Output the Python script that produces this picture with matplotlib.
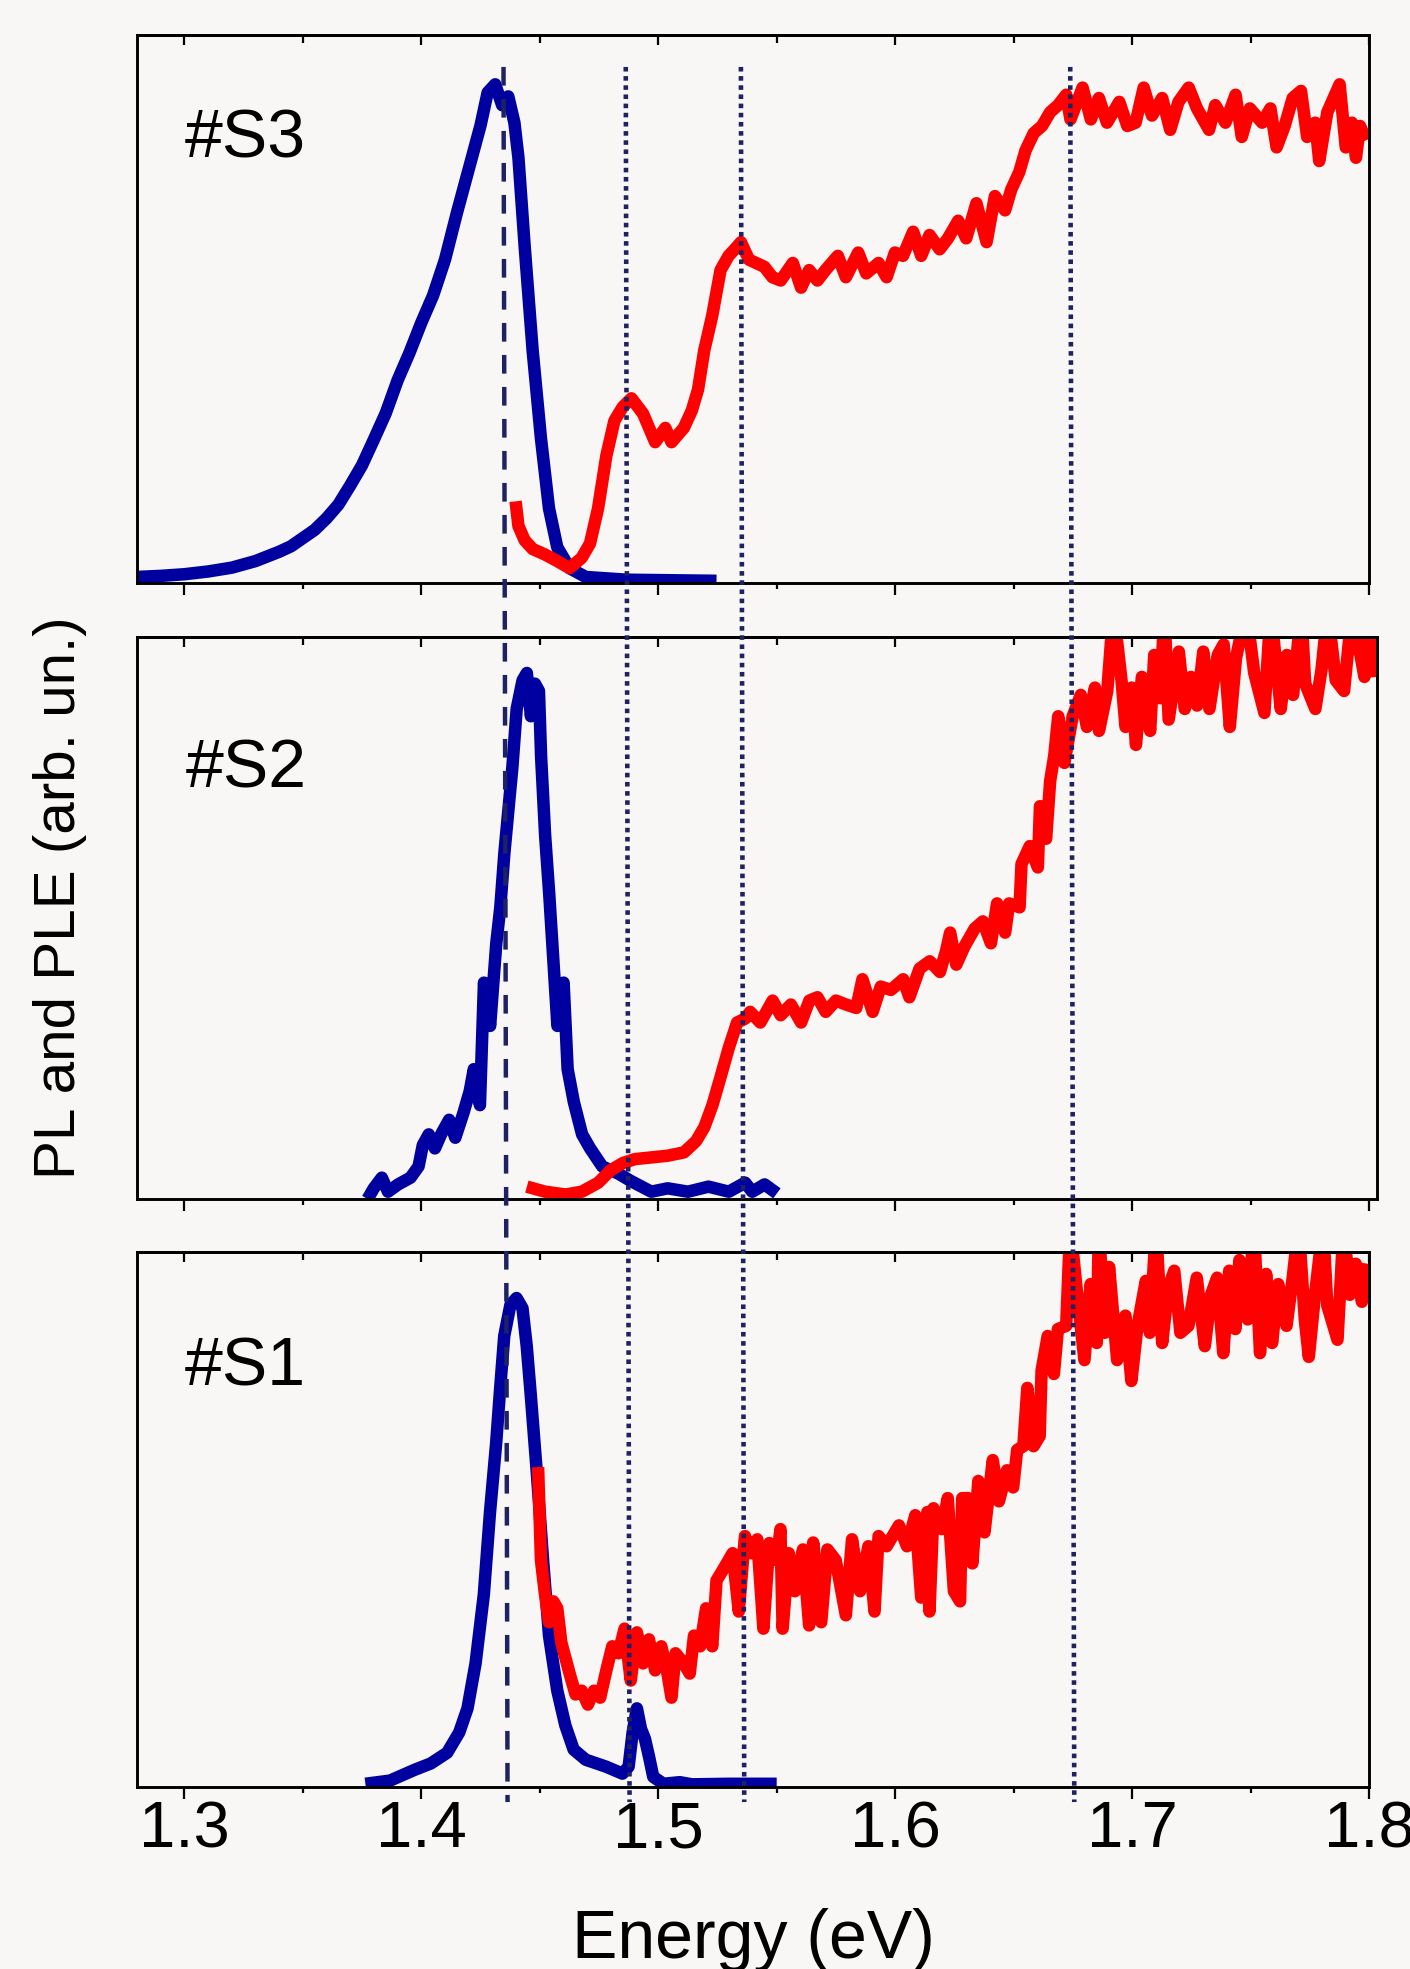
import matplotlib
matplotlib.use("Agg")
import matplotlib.pyplot as plt
from matplotlib.lines import Line2D
from matplotlib.ticker import MultipleLocator, NullLocator

plt.rcParams['font.family'] = ['Liberation Sans', 'DejaVu Sans']

# ---- data (energy in eV, intensity normalised to panel height) ----
s3_pl_e = [1.28, 1.29, 1.30, 1.31, 1.32, 1.33, 1.34, 1.345, 1.35, 1.355,
           1.36, 1.365, 1.37, 1.375, 1.38, 1.385, 1.39, 1.395, 1.40, 1.405,
           1.41, 1.415, 1.42, 1.425, 1.428, 1.4312, 1.4341, 1.4367, 1.4393, 1.441,
           1.4436, 1.447, 1.4505, 1.4539, 1.4574, 1.4626, 1.4694, 1.4867, 1.5246]
s3_pl_y = [0.011, 0.013, 0.016, 0.021, 0.028, 0.040, 0.057, 0.067, 0.082, 0.097,
           0.118, 0.143, 0.178, 0.215, 0.262, 0.31, 0.37, 0.42, 0.475, 0.525,
           0.59, 0.675, 0.755, 0.835, 0.895, 0.910, 0.872, 0.888, 0.84, 0.776,
           0.616, 0.424, 0.264, 0.136, 0.065, 0.027, 0.011, 0.006, 0.004]

s3_ple_e = [1.4398, 1.441, 1.4436, 1.447, 1.4522, 1.4574, 1.4626, 1.4677, 1.4712, 1.4746,
            1.4781, 1.4815, 1.485, 1.4887, 1.4936, 1.4987, 1.503, 1.5056, 1.5108, 1.5142,
            1.5168, 1.5194, 1.5228, 1.5263, 1.5297, 1.5323, 1.5349, 1.5383, 1.5413, 1.5448,
            1.5482, 1.5517, 1.5568, 1.5603, 1.5637, 1.5672, 1.5706, 1.5758, 1.5792, 1.5844,
            1.5878, 1.593, 1.5964, 1.5999, 1.6033, 1.6076, 1.611, 1.6145, 1.6188, 1.6223,
            1.6266, 1.630, 1.6343, 1.6386, 1.6421, 1.6464, 1.649, 1.6524, 1.655, 1.6585,
            1.662, 1.6654, 1.6688, 1.6722, 1.674, 1.6791, 1.6826, 1.686, 1.6894, 1.6946,
            1.698, 1.7015, 1.7049, 1.7084, 1.7127, 1.7161, 1.7196, 1.7239, 1.7274, 1.7325,
            1.7351, 1.7394, 1.7437, 1.7463, 1.7497, 1.7549, 1.7584, 1.761, 1.7644, 1.7678,
            1.7713, 1.7739, 1.7773, 1.779, 1.7824, 1.7876, 1.7902, 1.7928, 1.7945, 1.7962,
            1.7988]
s3_ple_y = [0.149, 0.104, 0.078, 0.062, 0.052, 0.040, 0.027, 0.046, 0.072, 0.136,
            0.232, 0.296, 0.321, 0.337, 0.309, 0.257, 0.283, 0.257, 0.283, 0.315,
            0.353, 0.424, 0.488, 0.571, 0.597, 0.609, 0.622, 0.590, 0.584, 0.577,
            0.558, 0.552, 0.584, 0.539, 0.571, 0.552, 0.571, 0.597, 0.558, 0.603,
            0.565, 0.584, 0.558, 0.603, 0.597, 0.641, 0.597, 0.635, 0.609, 0.629,
            0.661, 0.629, 0.693, 0.622, 0.706, 0.680, 0.718, 0.750, 0.789, 0.821,
            0.834, 0.859, 0.872, 0.891, 0.846, 0.904, 0.846, 0.885, 0.840, 0.878,
            0.834, 0.840, 0.904, 0.853, 0.885, 0.827, 0.878, 0.904, 0.866, 0.827,
            0.872, 0.84, 0.891, 0.814, 0.866, 0.84, 0.866, 0.795, 0.834, 0.885,
            0.898, 0.814, 0.84, 0.77, 0.859, 0.910, 0.795, 0.84, 0.776, 0.834,
            0.808]

s2_pl_e = [1.3773, 1.3799, 1.3833, 1.3859, 1.3902, 1.3954, 1.3988, 1.4006, 1.4031, 1.4057,
           1.4083, 1.4117, 1.4143, 1.4178, 1.4204, 1.4221, 1.4247, 1.4264, 1.4290, 1.4316,
           1.4333, 1.435, 1.4367, 1.4384, 1.4402, 1.4427, 1.4445, 1.4462, 1.4479, 1.4496,
           1.4505, 1.4522, 1.4539, 1.4557, 1.4574, 1.4600, 1.4617, 1.4643, 1.4678, 1.4712,
           1.4763, 1.4832, 1.4884, 1.497, 1.5039, 1.5125, 1.5211, 1.5297, 1.5366, 1.5396,
           1.5448, 1.5500]
s2_pl_y = [0.0, 0.019, 0.038, 0.013, 0.026, 0.038, 0.058, 0.096, 0.115, 0.09,
           0.115, 0.141, 0.109, 0.154, 0.192, 0.231, 0.167, 0.385, 0.308, 0.455,
           0.519, 0.615, 0.692, 0.769, 0.872, 0.923, 0.936, 0.859, 0.917, 0.904,
           0.788, 0.647, 0.545, 0.423, 0.308, 0.385, 0.231, 0.173, 0.115, 0.09,
           0.058, 0.045, 0.032, 0.013, 0.019, 0.013, 0.022, 0.013, 0.029, 0.013,
           0.026, 0.010]

s2_ple_e = [1.4445, 1.4522, 1.4608, 1.4677, 1.4746, 1.4798, 1.485, 1.4901, 1.497, 1.5039,
            1.5108, 1.5159, 1.5194, 1.5228, 1.5263, 1.5297, 1.5332, 1.5366, 1.5387, 1.543,
            1.5482, 1.5516, 1.5559, 1.5602, 1.5637, 1.5671, 1.5706, 1.5749, 1.5792, 1.5835,
            1.5861, 1.5904, 1.5938, 1.5981, 1.6033, 1.6059, 1.6102, 1.6145, 1.6188, 1.6214,
            1.6231, 1.6257, 1.6291, 1.6334, 1.6369, 1.6403, 1.6429, 1.6463, 1.648, 1.6524,
            1.6532, 1.6567, 1.6601, 1.661, 1.6636, 1.6653, 1.667, 1.6687, 1.6713, 1.6748,
            1.6782, 1.6808, 1.6842, 1.6859, 1.6894, 1.692, 1.6954, 1.6971, 1.6997, 1.7015,
            1.704, 1.7075, 1.7092, 1.7118, 1.7135, 1.7153, 1.7196, 1.7221, 1.7247, 1.7273,
            1.7299, 1.7325, 1.736, 1.7385, 1.7411, 1.7437, 1.748, 1.7514, 1.7557, 1.7583,
            1.7626, 1.7652, 1.7678, 1.7712, 1.7729, 1.7772, 1.7798, 1.7824, 1.7858, 1.7893,
            1.7927, 1.7979, 1.8005, 1.8031]
s2_ple_y = [0.022, 0.013, 0.008, 0.013, 0.029, 0.051, 0.064, 0.071, 0.074, 0.077,
            0.083, 0.103, 0.128, 0.167, 0.218, 0.269, 0.314, 0.321, 0.333, 0.314,
            0.353, 0.327, 0.346, 0.314, 0.353, 0.359, 0.333, 0.353, 0.346, 0.34,
            0.391, 0.333, 0.378, 0.372, 0.391, 0.359, 0.41, 0.423, 0.404, 0.442,
            0.474, 0.417, 0.449, 0.481, 0.494, 0.455, 0.526, 0.474, 0.526, 0.519,
            0.596, 0.628, 0.59, 0.699, 0.641, 0.744, 0.788, 0.859, 0.776, 0.859,
            0.897, 0.84, 0.91, 0.833, 0.904, 1.05, 0.923, 0.84, 0.91, 0.808,
            0.929, 0.833, 0.968, 0.891, 1.05, 0.853, 0.974, 0.872, 0.929, 0.878,
            0.974, 0.872, 0.968, 0.987, 0.84, 0.962, 1.05, 0.936, 0.865, 1.05,
            0.872, 0.968, 0.897, 1.05, 0.917, 0.872, 0.942, 1.05, 0.923, 0.904,
            1.05, 0.929, 1.05, 0.929]

s1_pl_e = [1.3764, 1.3868, 1.3971, 1.404, 1.4109, 1.416, 1.4195, 1.4229, 1.4264, 1.429,
           1.4316, 1.4333, 1.435, 1.4376, 1.4402, 1.4427, 1.4445, 1.4462, 1.4488, 1.4514,
           1.4539, 1.4574, 1.4608, 1.4643, 1.4694, 1.478, 1.4849, 1.4875, 1.4892, 1.4910,
           1.4927, 1.4944, 1.4961, 1.4979, 1.5022, 1.5091, 1.5142, 1.5297, 1.5500]
s1_pl_y = [0.006, 0.012, 0.032, 0.044, 0.064, 0.102, 0.147, 0.231, 0.36, 0.514,
           0.643, 0.746, 0.843, 0.901, 0.914, 0.895, 0.824, 0.733, 0.585, 0.424,
           0.283, 0.18, 0.115, 0.07, 0.051, 0.038, 0.025, 0.038, 0.102, 0.147,
           0.109, 0.09, 0.057, 0.019, 0.006, 0.009, 0.005, 0.006, 0.006]

s1_ple_e = [1.4493, 1.4505, 1.4522, 1.4539, 1.4557, 1.4574, 1.4591, 1.4626, 1.4651, 1.4677,
            1.4703, 1.4729, 1.4755, 1.4781, 1.4806, 1.4832, 1.4858, 1.4884, 1.4910, 1.4936,
            1.4961, 1.4987, 1.5013, 1.5039, 1.5056, 1.5073, 1.5108, 1.5133, 1.5151, 1.5177,
            1.5202, 1.5228, 1.5246, 1.5280, 1.5314, 1.534, 1.5366, 1.5392, 1.5418, 1.5444,
            1.5469, 1.5500, 1.5516, 1.5525, 1.5551, 1.5577, 1.5611, 1.5637, 1.5654, 1.5688,
            1.5714, 1.5749, 1.5792, 1.5818, 1.5852, 1.5887, 1.5913, 1.593, 1.5964, 1.6016,
            1.6050, 1.6085, 1.6110, 1.6136, 1.6145, 1.6162, 1.6197, 1.6222, 1.6248, 1.6274,
            1.6283, 1.6308, 1.6326, 1.6351, 1.6377, 1.6412, 1.6438, 1.6472, 1.6498, 1.6515,
            1.6541, 1.6558, 1.6584, 1.661, 1.6618, 1.6644, 1.6670, 1.6687, 1.6722, 1.6739,
            1.6764, 1.6799, 1.6825, 1.6851, 1.6860, 1.6885, 1.6903, 1.6937, 1.6972, 1.6997,
            1.7023, 1.7058, 1.7075, 1.7101, 1.7127, 1.7153, 1.7178, 1.7204, 1.7238, 1.7273,
            1.7307, 1.7333, 1.7359, 1.7385, 1.741, 1.7436, 1.7453, 1.7488, 1.7514, 1.754,
            1.7566, 1.7591, 1.7617, 1.7652, 1.7678, 1.7703, 1.7729, 1.7746, 1.7772, 1.7806,
            1.7824, 1.7867, 1.7893, 1.7919, 1.7944, 1.797, 1.7996]
s1_ple_y = [0.598, 0.424, 0.36, 0.308, 0.347, 0.334, 0.27, 0.212, 0.173, 0.18,
            0.154, 0.18, 0.167, 0.218, 0.263, 0.25, 0.296, 0.199, 0.289, 0.231,
            0.276, 0.218, 0.263, 0.212, 0.167, 0.25, 0.231, 0.212, 0.283, 0.263,
            0.334, 0.263, 0.386, 0.411, 0.437, 0.328, 0.469, 0.437, 0.463, 0.296,
            0.456, 0.424, 0.482, 0.296, 0.437, 0.366, 0.444, 0.302, 0.457, 0.308,
            0.444, 0.424, 0.321, 0.463, 0.366, 0.45, 0.328, 0.469, 0.45, 0.489,
            0.45, 0.508, 0.354, 0.514, 0.328, 0.521, 0.482, 0.54, 0.366, 0.347,
            0.54, 0.54, 0.418, 0.572, 0.476, 0.611, 0.534, 0.592, 0.56, 0.63,
            0.637, 0.746, 0.637, 0.656, 0.778, 0.843, 0.772, 0.856, 0.862, 1.05,
            0.94, 0.798, 0.94, 0.83, 1.05, 0.849, 0.972, 0.798, 0.881, 0.759,
            0.862, 0.946, 0.849, 1.05, 0.83, 0.933, 0.965, 0.849, 0.862, 0.952,
            0.824, 0.92, 0.952, 0.811, 0.965, 0.856, 0.985, 0.874, 1.05, 0.811,
            0.959, 0.83, 0.94, 0.862, 0.952, 1.05, 0.874, 0.804, 0.92, 1.05,
            0.9, 0.836, 1.05, 0.92, 0.978, 0.907, 0.978]

sample_names = ["#S3", "#S2", "#S1"]
# marker lines: energy where each line meets the top panel and the bottom panel
mark_e_top = [1.4347, 1.4863, 1.5349, 1.6739]
mark_e_bot = [1.4364, 1.4879, 1.5363, 1.6756]
mark_dashed = [True, False, False, False]

bg = '#f8f7f5'
blue = '#0000a0'
red = '#ff0000'
navy = '#1f2260'

fig = plt.figure(figsize=(14.10, 19.69), dpi=100, facecolor=bg)

panels = [
    dict(rect=[0.09716, 0.70391, 0.87376, 0.27831], xmax=1.80,
         pl=(s3_pl_e, s3_pl_y), ple=(s3_ple_e, s3_ple_y), lab_y=0.776),
    dict(rect=[0.09716, 0.39106, 0.87943, 0.28542], xmax=1.8032,
         pl=(s2_pl_e, s2_pl_y), ple=(s2_ple_e, s2_ple_y), lab_y=0.733),
    dict(rect=[0.09716, 0.09243, 0.87376, 0.27171], xmax=1.80,
         pl=(s1_pl_e, s1_pl_y), ple=(s1_ple_e, s1_ple_y), lab_y=0.75),
]

axes = []
for i, p in enumerate(panels):
    ax = fig.add_axes(p['rect'])
    ax.set_facecolor(bg)
    ax.plot(*p['pl'], color=blue, lw=9, solid_joinstyle='round',
            solid_capstyle='butt')
    ax.plot(*p['ple'], color=red, lw=9, solid_joinstyle='round',
            solid_capstyle='butt')
    ax.set_xlim(1.28, p['xmax'])
    ax.set_ylim(0, 1)
    ax.yaxis.set_major_locator(NullLocator())
    ax.xaxis.set_major_locator(MultipleLocator(0.1))
    ax.xaxis.set_minor_locator(MultipleLocator(0.05))
    ax.tick_params(axis='x', which='both', direction='out', width=1.6,
                   top=False, labelbottom=(i == 2), labelsize=47, pad=1)
    ax.tick_params(axis='x', which='major', length=8.5)
    ax.tick_params(axis='x', which='minor', length=4.5)
    for s in ax.spines.values():
        s.set_linewidth(2.1)
    sec = ax.secondary_xaxis('top')
    sec.xaxis.set_major_locator(MultipleLocator(0.1))
    sec.xaxis.set_minor_locator(MultipleLocator(0.05))
    sec.tick_params(axis='x', which='both', direction='in', width=1.6,
                    labeltop=False)
    sec.tick_params(axis='x', which='major', length=7)
    sec.tick_params(axis='x', which='minor', length=6)
    sec.spines['top'].set_linewidth(2.1)
    ax.text(0.039, p['lab_y'], sample_names[i], transform=ax.transAxes,
            fontsize=49, ha='left', va='baseline')
    axes.append(ax)

fig.text(0.534, 0.0056, "Energy (eV)", fontsize=49, ha='center', va='baseline')
fig.text(0.0426, 0.544, "PL and PLE (arb. un.)", fontsize=42, rotation=90,
         ha='center', va='center')

# vertical marker lines running through all three panels
inv = fig.transFigure.inverted()
y_top, y_bot = 0.966, 0.0848
for et, eb, dashed in zip(mark_e_top, mark_e_bot, mark_dashed):
    xt = inv.transform(axes[0].transData.transform((et, 0)))[0]
    xb = inv.transform(axes[2].transData.transform((eb, 0)))[0]
    if dashed:
        ln = Line2D([xt, xb], [y_top, y_bot], transform=fig.transFigure,
                    color=navy, lw=3.2, dashes=(4.2, 3.0))
    else:
        ln = Line2D([xt, xb], [y_top, y_bot], transform=fig.transFigure,
                    color=navy, lw=3.3, dashes=(1.0, 1.0))
    fig.add_artist(ln)

fig.savefig("out.png", dpi=100, facecolor=bg)
